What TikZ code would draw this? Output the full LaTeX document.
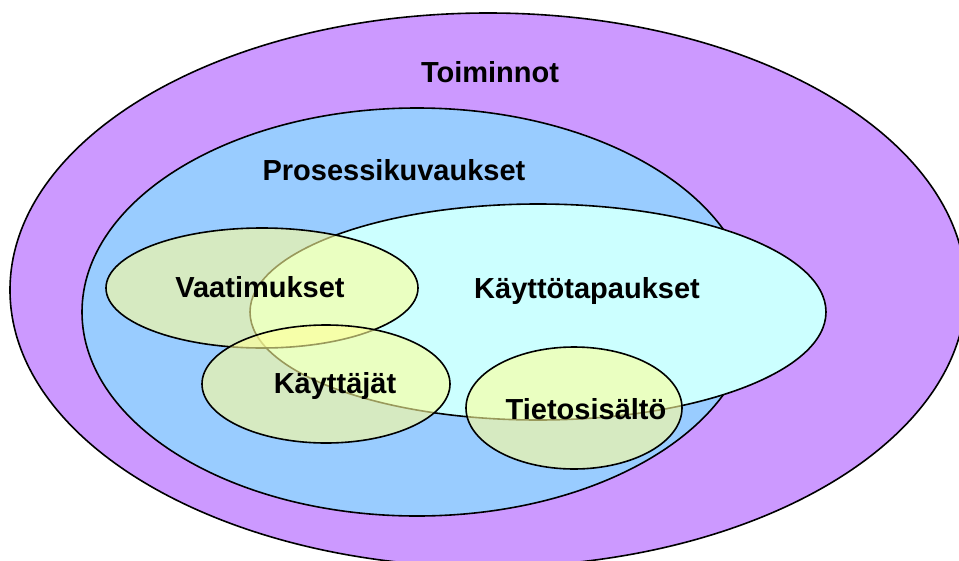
\documentclass[tikz,border=0pt]{standalone}
\usepackage{fontspec}
\setmainfont{Liberation Sans}
\definecolor{toimcol}{HTML}{CC99FF}
\definecolor{prosecol}{HTML}{99CCFF}
\definecolor{kaytcol}{HTML}{CCFFFF}
\definecolor{yelcol}{HTML}{FFFF99}
\tikzset{
  lbl/.style={font=\bfseries\fontsize{29}{34}\selectfont,anchor=base,inner sep=0pt},
  rim/.style={draw=black,line width=1.6pt},
  yel/.style={rim,fill=yelcol,fill opacity=.6}
}
\begin{document}
\begin{tikzpicture}[x=1pt,y=-1pt]
    \clip (0,0) rectangle (959,560);
    % big sets
    \draw[rim,fill=toimcol] (488,290) ellipse [x radius=478,y radius=277];
    \draw[rim,fill=prosecol] (417,312) ellipse [x radius=335,y radius=204];
    \draw[rim,fill=kaytcol] (538,312) ellipse [x radius=288,y radius=108];
    % see-through ones
    \draw[yel] (262,288) ellipse [x radius=156,y radius=60];
    \draw[yel] (326,384) ellipse [x radius=124,y radius=59];
    \draw[yel] (574,408) ellipse [x radius=108,y radius=61];
    % labels
    \node[lbl] (toim) at (490,82) {Toiminnot};
    \node[lbl] (prose) at (394,180) {Prosessikuvaukset};
    \node[lbl] (vaat) at (260,297) {Vaatimukset};
    \node[lbl] (kaytto) at (587,298) {Käyttötapaukset};
    \node[lbl] (kayttajat) at (335,393) {Käyttäjät};
    \node[lbl] (tieto) at (586,419) {Tietosisältö};
  \end{tikzpicture}
\end{document}
